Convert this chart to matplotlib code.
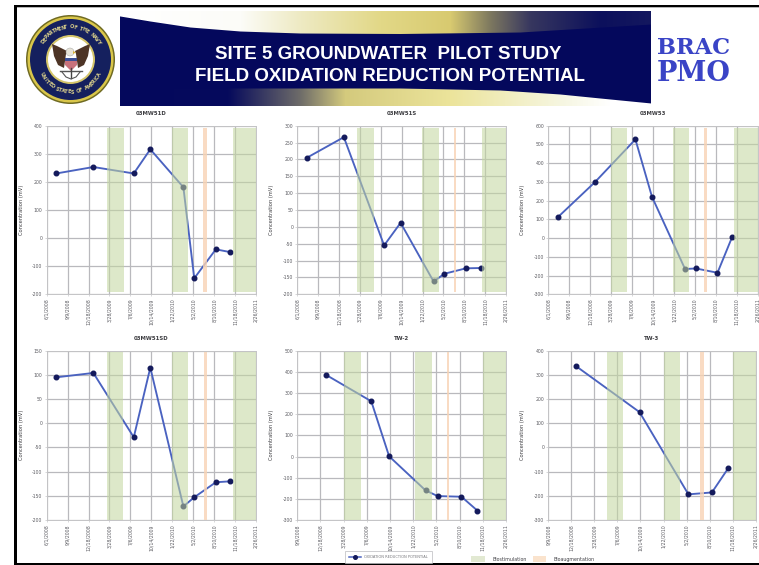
import numpy as np
import matplotlib
matplotlib.use("Agg")
import matplotlib.pyplot as plt
from matplotlib.patches import Rectangle, Circle, Polygon, Patch
from matplotlib.lines import Line2D

W, H = 759, 565

# ---------- data (days counted from 6/1/2008; 100 days between ticks) ----------
tick_days_full = [0, 100, 200, 300, 400, 500, 600, 700, 800, 900, 1000]
tick_labels_full = ["6/1/2008", "9/9/2008", "12/18/2008", "3/28/2009", "7/6/2009", "10/14/2009",
                    "1/22/2010", "5/2/2010", "8/10/2010", "11/18/2010", "2/26/2011"]

days_a = [46, 223, 416, 495, 653, 705, 808, 878]
days_b = [222, 419, 496, 653, 705, 808, 877]
days_c = [222, 496, 708, 810, 880]

names = ["03MW51D", "03MW51S", "03MW53", "03MW51SD", "TW-2", "TW-3"]
orp_1 = [230, 253, 230, 316, 181, -143, -40, -50]
orp_2 = [205, 266, -55, 12, -162, -139, -123, -122]
orp_3 = [112, 299, 527, 221, -165, -162, -185, 6]
orp_4 = [95, 104, -29, 115, -172, -153, -122, -120]
orp_5 = [387, 261, 1, -160, -187, -190, -256]
orp_6 = [335, 146, -194, -186, -87]

ticks_1 = [-200, -100, 0, 100, 200, 300, 400]
ticks_2 = [-200, -150, -100, -50, 0, 50, 100, 150, 200, 250, 300]
ticks_3 = [-300, -200, -100, 0, 100, 200, 300, 400, 500, 600]
ticks_4 = [-200, -150, -100, -50, 0, 50, 100, 150]
ticks_5 = [-300, -200, -100, 0, 100, 200, 300, 400, 500]
ticks_6 = [-300, -200, -100, 0, 100, 200, 300, 400]

bio_1 = [(290, 368), (599, 677), (889, 1000)]
bio_2 = [(288, 366), (599, 677), (885, 1000)]
bio_3 = [(300, 378), (594, 671), (885, 1000)]
bio_4 = [(290, 366), (600, 677), (889, 1000)]
bio_5 = [(301, 376), (607, 682), (900, 1000)]
bio_6 = [(355, 425), (601, 673), (900, 1000)]
aug_1 = (748, 766)
aug_2 = (749, 762)
aug_3 = (742, 756)
aug_4 = (750, 767)
aug_5 = (744, 754)
aug_6 = (758, 774)

panels = [
    (names[0], days_a, orp_1, ticks_1, bio_1, aug_1, 0, (46.7, 125.7, 256.0, 294.3)),
    (names[1], days_a, orp_2, ticks_2, bio_2, aug_2, 0, (297.3, 125.7, 506.0, 294.3)),
    (names[2], days_a, orp_3, ticks_3, bio_3, aug_3, 0, (548.3, 125.7, 757.7, 294.3)),
    (names[3], days_a, orp_4, ticks_4, bio_4, aug_4, 0, (46.7, 350.7, 256.0, 520.0)),
    (names[4], days_b, orp_5, ticks_5, bio_5, aug_5, 1, (297.3, 350.7, 506.0, 520.0)),
    (names[5], days_c, orp_6, ticks_6, bio_6, aug_6, 1, (548.3, 350.7, 755.7, 520.0)),
]

LINE = "#4a62c0"
MARK = "#141a5c"
GRID = "#b9b9bd"
TXT = "#5c5c62"
GREEN = "#c3d6a0"
ORANGE = "#f8d3b4"

fig = plt.figure(figsize=(W / 100, H / 100), dpi=100, facecolor="white")

# ---------- slide furniture, drawn in pixel coordinates ----------
bg = fig.add_axes([0, 0, 1, 1], zorder=0)
bg.set_xlim(0, W)
bg.set_ylim(H, 0)
bg.axis("off")

for (x, y, w, h, c) in [(14.3, 5, W, 2.2, "black"), (14.3, 7.2, W, 1.0, "#b5b5b5"),
                        (14.3, 5, 2.5, H, "black"), (14.3, 563, W, 2, "black")]:
    bg.add_patch(Rectangle((x, y), w, h, fc=c, ec="none"))

# banner with its two swooshes
bx = np.arange(120, 651)
by = np.arange(11, 106)
navy = np.array([4, 8, 92], float)
top_x = [120, 240, 300, 380, 450, 490, 530, 600, 651]
top_c = np.array([[255, 255, 255], [252, 252, 248], [238, 234, 195], [226, 216, 135], [216, 202, 112],
                  [125, 120, 95], [55, 55, 95], [12, 16, 92], [20, 24, 95]], float)
bot_x = [120, 228, 300, 345, 450, 560, 610, 651]
bot_c = np.array([[4, 8, 92], [6, 10, 92], [110, 108, 105], [212, 202, 125], [236, 228, 155],
                  [246, 246, 224], [255, 255, 255], [255, 255, 255]], float)
top_edge = np.interp(bx, [120, 150, 190, 240, 300, 400, 520, 651], [16, 21, 27, 31, 33, 33.5, 32, 24])
bot_edge = np.interp(bx, [120, 230, 400, 500, 560, 600, 651], [88, 88, 88, 90, 94, 98, 103])
img = np.zeros((by.size, bx.size, 3))
for i in range(3):
    tc = np.interp(bx, top_x, top_c[:, i])
    bc = np.interp(bx, bot_x, bot_c[:, i])
    for j, yy in enumerate(by):
        a = np.clip(top_edge - yy + 0.5, 0, 1)
        b = np.clip(yy - bot_edge + 0.5, 0, 1)
        img[j, :, i] = navy[i] * (1 - a) * (1 - b) + tc * a * (1 - b) + bc * b
bg.imshow(img / 255, extent=(120, 651, 106, 11), aspect="auto", interpolation="bilinear", zorder=1)
bg.set_xlim(0, W)
bg.set_ylim(H, 0)

bg.text(388, 54.5, "SITE 5 GROUNDWATER  PILOT STUDY", color="white", ha="center", va="center",
        fontsize=13.5, fontweight="bold", family="Liberation Sans", zorder=3)
bg.text(390, 76.5, "FIELD OXIDATION REDUCTION POTENTIAL", color="white", ha="center", va="center",
        fontsize=13.5, fontweight="bold", family="Liberation Sans", zorder=3)

bg.text(694, 47.5, "BRAC", color="#3a44c6", ha="center", va="center", fontsize=16.2,
        fontweight="bold", family="DejaVu Serif", zorder=3)
bg.text(694, 73.5, "PMO", color="#3a44c6", ha="center", va="center", fontsize=19.5,
        fontweight="bold", family="DejaVu Serif", zorder=3)

# navy seal
cx, cy = 70.5, 59.5
for r, c in [(44.5, "#6f6a22"), (43, "#d9c64a"), (40.5, "#15205e"), (24.5, "#d4c56a"), (22.5, "white")]:
    bg.add_patch(Circle((cx, cy), r, fc=c, ec="none", zorder=2))
for s, a0, a1 in [("DEPARTMENT OF THE NAVY", 150, 30), ("UNITED STATES OF AMERICA", 205, 335)]:
    for k, ch in enumerate(s):
        ang = a0 + (a1 - a0) * (k + 0.5) / len(s)
        rad = np.deg2rad(ang)
        rot = ang - 90 if a0 > a1 else ang + 90
        bg.text(cx + 32.5 * np.cos(rad), cy - 32.5 * np.sin(rad), ch, color="#d9cf8a", fontsize=3.6,
                rotation=rot, rotation_mode="anchor", ha="center", va="center",
                fontweight="bold", zorder=3)
wing_l = [(66, 54), (64, 68), (58, 65), (54, 56), (52, 44), (57, 46), (63, 49), (67, 51)]
wing_r = [(142 - x, y) for x, y in wing_l]
bg.add_patch(Polygon(wing_l, fc="#4d3426", ec="none", zorder=3))
bg.add_patch(Polygon(wing_r, fc="#4d3426", ec="none", zorder=3))
bg.add_patch(Circle((70, 52), 4.0, fc="#e8e4d8", ec="#999", lw=0.3, zorder=4))
bg.add_patch(Polygon([(73, 51), (76, 52.5), (73, 54)], fc="#d9b23a", ec="none", zorder=4))
bg.add_patch(Polygon([(65, 58), (77, 58), (77, 65), (71, 71), (65, 65)], fc="#c9727c", ec="none", zorder=4))
bg.add_patch(Rectangle((65, 58), 12, 3.2, fc="#3c4f96", ec="none", zorder=5))
bg.plot([60, 82], [70.5, 70.5], color="#555", lw=1.0, zorder=4)
bg.plot([71, 71], [68, 78], color="#444", lw=1.0, zorder=4)
bg.plot([62, 66, 71, 76, 80], [72, 77, 79, 77, 72], color="#555", lw=0.8, zorder=4)

# ---------- the six charts ----------
for name, days, vals, yt, bios, aug, start, (x0, y0, x1, y1) in panels:
    ax = fig.add_axes([x0 / W, 1 - y1 / H, (x1 - x0) / W, (y1 - y0) / H], zorder=2)
    xt = tick_days_full[start:]
    xl = tick_labels_full[start:]
    ax.set_xlim(xt[0], xt[-1])
    ax.set_ylim(yt[0], yt[-1])
    ax.set_xticks(xt)
    ax.set_xticklabels(xl, rotation=90)
    ax.set_yticks(yt)
    ax.set_yticklabels([str(v) for v in yt])
    ax.grid(True, color=GRID, lw=0.9, zorder=1)
    ax.set_axisbelow(True)
    ax.tick_params(labelsize=3.3, length=1.5, width=0.4, color=GRID, labelcolor=TXT, pad=1.5)
    for s in ax.spines.values():
        s.set_color("#c4c4c6")
        s.set_linewidth(0.7)
    ax.plot(days, vals, color=LINE, lw=1.35, marker="o", ms=3.3, mfc=MARK, mec=MARK,
            zorder=2, clip_on=False, label="OXIDATION REDUCTION POTENTIAL")
    top_row = y0 < 200
    lo, hi = (0.012, 0.984) if top_row else (0.0, 0.995)
    for a, b in bios:
        ax.axvspan(a, b, ymin=lo, ymax=hi, fc=GREEN, ec="none", alpha=0.56, zorder=3)
    ax.axvspan(aug[0], aug[1], ymin=lo, ymax=hi, fc=ORANGE, ec="none", alpha=0.8, zorder=3)
    ax.set_title(name, fontsize=3.9, color="#3c3c40", fontweight="bold", pad=7.5)
    ax.set_ylabel("Concentration (mV)", fontsize=3.7, color="#3c3c40")
    ax.yaxis.set_label_coords(-23 / (x1 - x0), 0.5)

# ---------- legends ----------
h1 = Line2D([], [], color=LINE, lw=1.1, marker="o", ms=2.6, mfc=MARK, mec=MARK)
lg1 = fig.legend([h1], ["OXIDATION REDUCTION POTENTIAL"], loc="center",
                 bbox_to_anchor=(388.5 / W, 1 - 557 / H), fontsize=2.6, frameon=True, fancybox=False,
                 edgecolor="#b8b8bc", handlelength=3.4, borderpad=1.0, labelcolor="#77777c")
lg1.get_frame().set_linewidth(0.6)
h2 = [Patch(fc="#e2e9d2", ec="none"), Patch(fc="#fae3cd", ec="none")]
lg2 = fig.legend(h2, ["Biostimulation", "Bioaugmentation"], loc="center", ncol=2,
                 bbox_to_anchor=(533 / W, 1 - 559 / H), fontsize=3.4, frameon=False, handlelength=2.9,
                 handleheight=1.7, columnspacing=1.3, handletextpad=1.5, labelcolor="#404045",
                 borderpad=0)

fig.savefig("out.png", dpi=100)
